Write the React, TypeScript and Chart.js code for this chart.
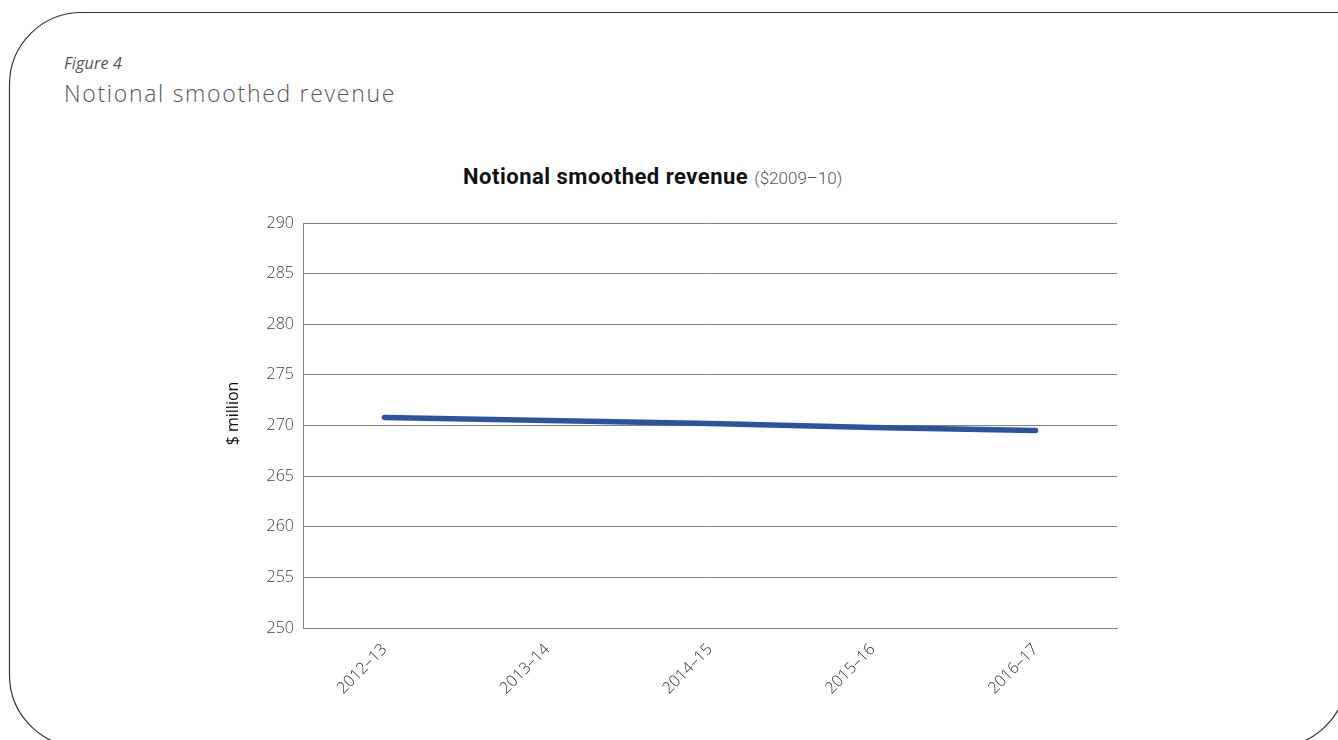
import React, { useEffect, useRef } from "react";
import { Chart, registerables } from "chart.js";

Chart.register(...registerables);

const categories: string[] = ["2012–13", "2013–14", "2014–15", "2015–16", "2016–17"];
const revenue: number[] = [270.8, 270.5, 270.2, 269.8, 269.5];
const yMin = 250;
const yMax = 290;
const yStep = 5;
const yTitle = "$ million";

const yTitlePlugin = {
  id: "yTitlePlugin",
  afterDraw(chart: any) {
    const { ctx, chartArea } = chart;
    const cx = chartArea.left - 70;
    const cy = (chartArea.top + chartArea.bottom) / 2 - 12;
    ctx.save();
    ctx.translate(cx, cy);
    ctx.rotate(-Math.PI / 2);
    ctx.font = "16px 'Open Sans', sans-serif";
    ctx.fillStyle = "#111111";
    ctx.textAlign = "center";
    ctx.textBaseline = "middle";
    ctx.fillText(yTitle, 0, 0);
    ctx.restore();
  },
};

export default function App() {
  const canvasRef = useRef<HTMLCanvasElement | null>(null);

  useEffect(() => {
    const canvas = canvasRef.current;
    if (!canvas) return;
    const chart = new Chart(canvas, {
      type: "line",
      data: {
        labels: categories,
        datasets: [
          {
            label: "Notional smoothed revenue",
            data: revenue,
            borderColor: "#2a53a1",
            backgroundColor: "#2a53a1",
            borderWidth: 5.5,
            borderCapStyle: "round",
            borderJoinStyle: "round",
            pointRadius: 0,
            tension: 0,
          },
        ],
      },
      options: {
        animation: false,
        responsive: false,
        maintainAspectRatio: false,
        layout: { padding: { left: 221, top: 223, right: 221, bottom: 12 } },
        plugins: {
          legend: { display: false },
          tooltip: { enabled: false },
          title: { display: false },
        },
        scales: {
          x: {
            offset: true,
            grid: { display: false, drawTicks: false },
            border: { display: true, color: "#828282", width: 1 },
            ticks: {
              minRotation: 45,
              maxRotation: 45,
              padding: 12,
              color: "#333333",
              font: { family: "'Open Sans', sans-serif", size: 16, weight: "300" },
            },
            afterFit: (s: any) => {
              s.height = 100;
            },
          },
          y: {
            min: yMin,
            max: yMax,
            ticks: {
              stepSize: yStep,
              padding: 9,
              color: "#404040",
              font: { family: "'Open Sans', sans-serif", size: 16, weight: "300" },
            },
            grid: { color: "#828282", lineWidth: 1, drawTicks: false },
            border: { display: true, color: "#828282", width: 1 },
            title: { display: false },
            afterFit: (s: any) => {
              s.width = 82;
            },
          },
        },
      },
      plugins: [yTitlePlugin],
    });
    return () => chart.destroy();
  }, []);

  return (
    <div
      style={{
        position: "absolute",
        left: 0,
        top: 0,
        width: 1338,
        height: 740,
        overflow: "hidden",
        background: "#ffffff",
      }}
    >
      <svg
        width={1338}
        height={740}
        style={{ position: "absolute", left: 0, top: 0 }}
      >
        <path
          d="M 1400 12.5 L 81.5 12.5 A 72 72 0 0 0 9.5 84.5 L 9.5 675 A 72 72 0 0 0 81.5 747 L 1275 747 A 72 72 0 0 0 1347 675"
          fill="none"
          stroke="#333333"
          strokeWidth={1.2}
        />
      </svg>
      <div
        style={{
          position: "absolute",
          left: 64,
          top: 51,
          lineHeight: "24px",
          fontFamily: "'Open Sans', sans-serif",
          fontStyle: "italic",
          fontSize: 16,
          letterSpacing: 0.2,
          color: "#555555",
        }}
      >
        Figure 4
      </div>
      <div
        style={{
          position: "absolute",
          left: 64,
          top: 78,
          lineHeight: "30px",
          fontFamily: "'Open Sans', sans-serif",
          fontWeight: 300,
          fontSize: 23,
          letterSpacing: 1.7,
          color: "#55585a",
          whiteSpace: "nowrap",
        }}
      >
        Notional smoothed revenue
      </div>
      <div
        style={{
          position: "absolute",
          left: 463,
          top: 164,
          lineHeight: "26px",
          fontFamily: "Roboto, sans-serif",
          whiteSpace: "nowrap",
          color: "#111111",
        }}
      >
        <span style={{ fontWeight: 700, fontSize: 22, letterSpacing: 0.5 }}>Notional smoothed revenue</span>
        <span style={{ fontWeight: 300, fontSize: 17, color: "#555555", marginLeft: 6 }}>($2009–10)</span>
      </div>
      <canvas
        ref={canvasRef}
        width={1338}
        height={740}
        style={{ position: "absolute", left: 0, top: 0, width: 1338, height: 740 }}
      />
    </div>
  );
}
